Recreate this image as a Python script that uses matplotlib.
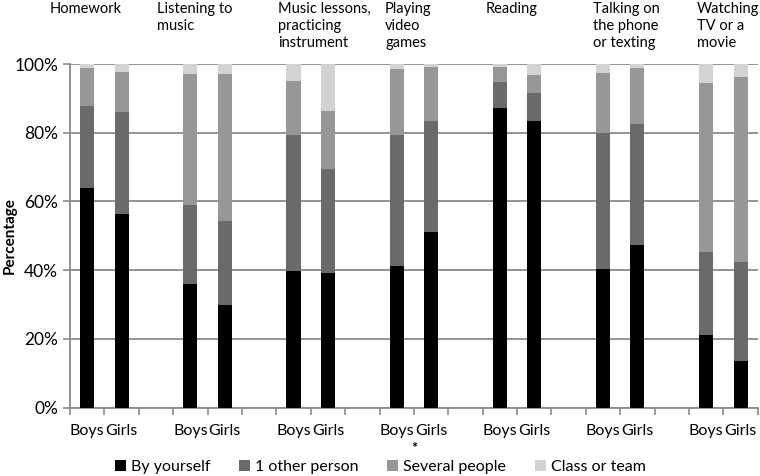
import matplotlib.pyplot as plt
import numpy as np

plt.rcParams['font.family'] = ['Lato', 'DejaVu Sans']

activities = ['Homework', 'Listening to\nmusic', 'Music lessons,\npracticing\ninstrument',
              'Playing\nvideo\ngames', 'Reading', 'Talking on\nthe phone\nor texting',
              'Watching\nTV or a\nmovie']
groups = ['Boys', 'Girls']

# percentages, order: Boys, Girls for each activity
by_yourself = [63.8, 56.3, 35.9, 29.7, 39.7, 39.1, 41.3, 51.0, 87.3, 83.5, 40.3, 47.2, 21.1, 13.5]
one_other = [24.1, 29.8, 23.1, 24.6, 39.6, 30.3, 38.0, 32.5, 7.4, 8.0, 39.5, 35.2, 24.1, 28.9]
several = [11.0, 11.5, 38.1, 42.7, 15.8, 17.0, 19.2, 15.5, 4.5, 5.3, 17.5, 16.3, 49.2, 53.9]
class_team = [1.1, 2.4, 2.9, 3.0, 4.9, 13.6, 1.5, 1.0, 0.8, 3.2, 2.7, 1.3, 5.6, 3.7]

series = [('By yourself', by_yourself, '#000000'),
          ('1 other person', one_other, '#6a6a6a'),
          ('Several people', several, '#979797'),
          ('Class or team', class_team, '#d3d3d3')]

# each activity gets 3 slots: Boys, Girls, gap
x = np.array([3 * g + i for g in range(len(activities)) for i in range(2)])
labels = [groups[i] for g in range(len(activities)) for i in range(2)]

fig = plt.figure(figsize=(7.6, 4.76), dpi=100)
ax = fig.add_axes([0.0921, 0.1439, 0.905, 0.7216])

bottom = np.zeros(len(x))
for name, vals, col in series:
    ax.bar(x, vals, width=0.41, bottom=bottom, color=col, label=name, zorder=3)
    bottom += np.array(vals)

ax.set_xlim(-0.5, 19.5)
ax.set_ylim(0, 100)
ax.set_yticks(np.arange(0, 101, 20))
ax.set_yticklabels(['%d%%' % v for v in range(0, 101, 20)], fontsize=12.5)
ax.yaxis.grid(True, color='#8a8a8a', linewidth=1.3, zorder=0)
fig.text(10 / 760, 0.1439 + 0.7216 / 2, 'Percentage', rotation=90, fontsize=11,
         fontweight='bold', ha='center', va='center')

ax.set_xticks(x)
ax.set_xticklabels(labels, fontsize=11.5)
ax.set_xticks(np.arange(-0.5, 20, 1), minor=True)
ax.tick_params(axis='x', which='major', length=0, pad=12)
ax.tick_params(axis='x', which='minor', length=5, color='#8a8a8a', width=1.2, direction='out')
ax.tick_params(axis='y', length=5, color='#8a8a8a', width=1.2)

for s in ['top', 'right']:
    ax.spines[s].set_visible(False)
for s in ['left', 'bottom']:
    ax.spines[s].set_color('#8a8a8a')
    ax.spines[s].set_linewidth(1.3)

# activity headers above the plot
head_x = [50, 157, 278, 385, 486, 593, 697]
for hx, txt in zip(head_x, activities):
    fig.text(hx / 760, 1 - 2 / 476, txt, fontsize=10.5, va='top', ha='left', linespacing=1.28)

ax.text(9.5, -0.1, '*', transform=ax.get_xaxis_transform(), ha='center', va='top',
        fontsize=10.5, fontweight='bold')

fig.legend(loc='lower center', bbox_to_anchor=(0.5, -0.027), ncol=4, frameon=False,
           fontsize=11.5, handlelength=0.7, handleheight=0.7, handletextpad=0.3, columnspacing=1.8)

fig.savefig('out.png', dpi=100)
